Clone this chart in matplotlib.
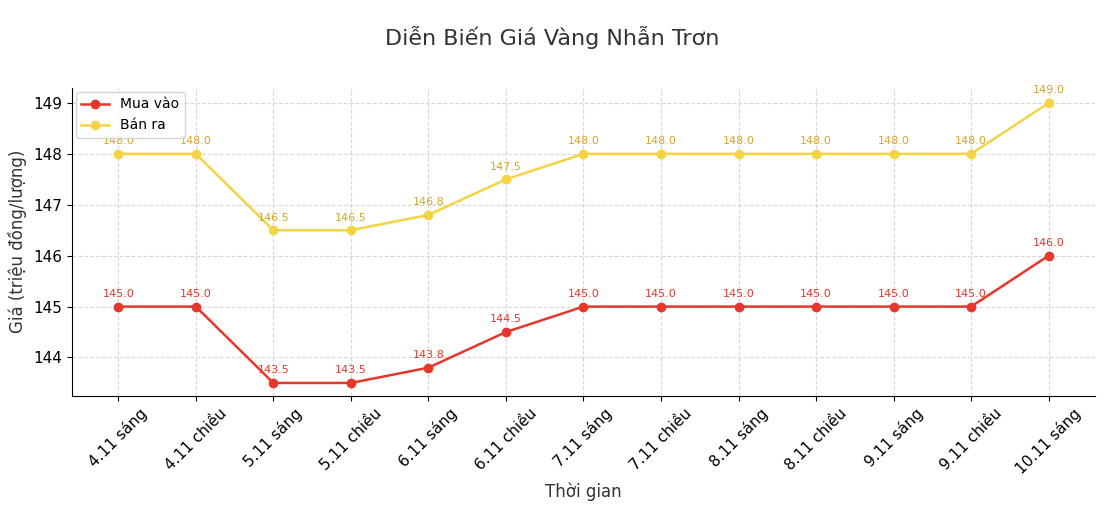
import matplotlib
matplotlib.use("Agg")
import matplotlib.pyplot as plt

times = ["4.11 sáng", "4.11 chiều", "5.11 sáng", "5.11 chiều", "6.11 sáng", "6.11 chiều",
         "7.11 sáng", "7.11 chiều", "8.11 sáng", "8.11 chiều", "9.11 sáng", "9.11 chiều", "10.11 sáng"]
mua_vao = [145.0, 145.0, 143.5, 143.5, 143.8, 144.5, 145.0, 145.0, 145.0, 145.0, 145.0, 145.0, 146.0]
ban_ra = [148.0, 148.0, 146.5, 146.5, 146.8, 147.5, 148.0, 148.0, 148.0, 148.0, 148.0, 148.0, 149.0]

fig = plt.figure(figsize=(11.04, 5.22), dpi=100)
ax = fig.add_axes([0.065, 0.242, 0.927, 0.59])
x = range(len(times))
ax.plot(x, mua_vao, marker="o", color="#e5372a", label="Mua vào", lw=1.8, ms=6)
ax.plot(x, ban_ra, marker="o", color="#f4d443", label="Bán ra", lw=1.8, ms=6)
for i in x:
    ax.annotate(f"{mua_vao[i]:.1f}", (i, mua_vao[i]), xytext=(0, 7), textcoords="offset points",
                ha="center", fontsize=8, color="#e5372a")
    ax.annotate(f"{ban_ra[i]:.1f}", (i, ban_ra[i]), xytext=(0, 7), textcoords="offset points",
                ha="center", fontsize=8, color="#d4a52a")

ax.set_xticks(list(x))
ax.set_xticklabels(times, rotation=45, fontsize=11)
ax.tick_params(axis="y", labelsize=11)
ax.set_xlim(-0.6, 12.6)
ax.set_ylim(143.25, 149.3)
ax.grid(True, ls="--", color="#d8d8d8", lw=0.8)
ax.spines["top"].set_visible(False)
ax.spines["right"].set_visible(False)
ax.set_xlabel("Thời gian", fontsize=12, color="#333333")
ax.set_ylabel("Giá (triệu đồng/lượng)", fontsize=12, color="#333333")
fig.suptitle("Diễn Biến Giá Vàng Nhẫn Trơn", fontsize=16, color="#333333", y=0.95)
ax.legend(loc="upper left", fontsize=10, borderaxespad=0.3)
fig.savefig("out.png", dpi=100)
